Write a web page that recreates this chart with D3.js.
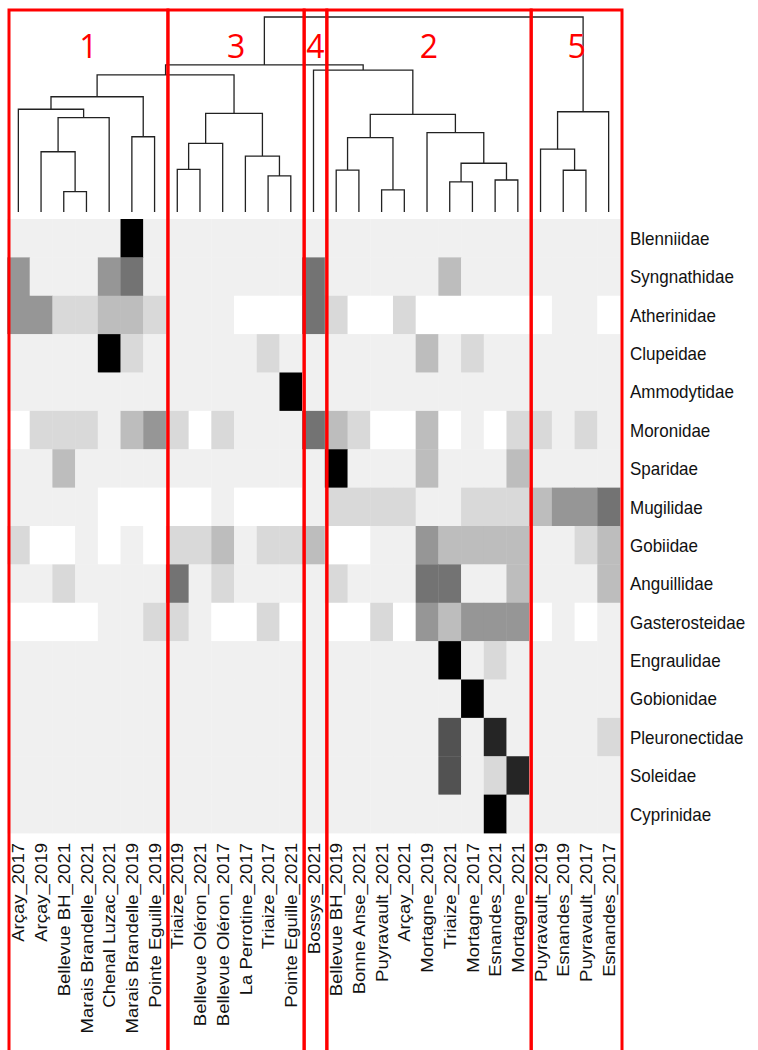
<!DOCTYPE html>
<html lang="en">
<head>
<meta charset="utf-8">
<title>Fish families by site and year</title>
<script src="https://cdn.jsdelivr.net/npm/d3@7"></script>
<style>
  body { margin: 0; background: #fff; }
</style>
</head>
<body>
<script>
// samples in dendrogram order (left to right)
var samples = [
  "Arçay_2017", "Arçay_2019", "Bellevue BH_2021", "Marais Brandelle_2021", "Chenal Luzac_2021",
  "Marais Brandelle_2019", "Pointe Eguille_2019",
  "Triaize_2019", "Bellevue Oléron_2021", "Bellevue Oléron_2017", "La Perrotine_2017", "Triaize_2017",
  "Pointe Eguille_2021",
  "Bossys_2021",
  "Bellevue BH_2019", "Bonne Anse_2021", "Puyravault_2021", "Arçay_2021", "Mortagne_2019",
  "Triaize_2021", "Mortagne_2017", "Esnandes_2021", "Mortagne_2021",
  "Puyravault_2019", "Esnandes_2019", "Puyravault_2017", "Esnandes_2017"
];

var families = [
  "Blenniidae", "Syngnathidae", "Atherinidae", "Clupeidae", "Ammodytidae", "Moronidae",
  "Sparidae", "Mugilidae", "Gobiidae", "Anguillidae", "Gasterosteidae", "Engraulidae",
  "Gobionidae", "Pleuronectidae", "Soleidae", "Cyprinidae"
];

// grey level of each cell (0 = white ... 8 = black), one row per family
var blenniidae     = [1,1,1,1,1,8,1,1,1,1,1,1,1,1,1,1,1,1,1,1,1,1,1,1,1,1,1];
var syngnathidae   = [4,1,1,1,4,5,1,1,1,1,1,1,1,5,1,1,1,1,1,3,1,1,1,1,1,1,1];
var atherinidae    = [4,4,2,2,3,3,2,1,1,1,0,0,0,5,2,0,0,2,0,0,0,0,0,0,1,1,0];
var clupeidae      = [1,1,1,1,8,2,1,1,1,1,1,2,1,1,1,1,1,1,3,1,2,1,1,1,1,1,1];
var ammodytidae    = [1,1,1,1,1,1,1,1,1,1,1,1,8,1,1,1,1,1,1,1,1,1,1,1,1,1,1];
var moronidae      = [0,2,2,2,1,3,4,2,0,2,1,1,1,5,3,2,0,0,3,0,1,0,2,2,1,2,1];
var sparidae       = [1,1,3,1,1,1,1,1,1,1,1,1,1,1,8,1,1,1,3,1,1,1,3,1,1,1,1];
var mugilidae      = [1,1,1,1,0,0,0,0,0,1,0,0,0,1,2,2,2,2,1,1,2,2,2,3,4,4,5];
var gobiidae       = [2,0,0,1,0,1,0,2,2,3,1,2,2,3,0,0,1,1,4,3,3,3,3,1,1,2,3];
var anguillidae    = [1,1,2,1,1,1,1,5,1,2,1,1,1,1,2,1,1,1,5,5,1,1,3,1,1,1,3];
var gasterosteidae = [0,0,0,0,1,1,2,2,1,0,0,2,0,1,0,0,2,0,4,3,4,4,4,0,1,0,1];
var engraulidae    = [1,1,1,1,1,1,1,1,1,1,1,1,1,1,1,1,1,1,1,8,1,2,1,1,1,1,1];
var gobionidae     = [1,1,1,1,1,1,1,1,1,1,1,1,1,1,1,1,1,1,1,1,8,1,1,1,1,1,1];
var pleuronectidae = [1,1,1,1,1,1,1,1,1,1,1,1,1,1,1,1,1,1,1,6,1,7,1,1,1,1,2];
var soleidae       = [1,1,1,1,1,1,1,1,1,1,1,1,1,1,1,1,1,1,1,6,1,2,7,1,1,1,1];
var cyprinidae     = [1,1,1,1,1,1,1,1,1,1,1,1,1,1,1,1,1,1,1,1,1,8,1,1,1,1,1];

var levels = [blenniidae, syngnathidae, atherinidae, clupeidae, ammodytidae, moronidae,
  sparidae, mugilidae, gobiidae, anguillidae, gasterosteidae, engraulidae,
  gobionidae, pleuronectidae, soleidae, cyprinidae];

// hclust-style merges: negative = leaf (1-based sample), positive = earlier merge step
var mergePairs = [
  [-3, -4], [-2, 1], [2, -5], [-1, 3], [-6, -7], [4, 5],
  [-8, -9], [7, -10], [-12, -13], [-11, 9], [8, 10], [6, 11],
  [-15, -16], [-17, -18], [13, 14], [-20, -21], [-22, -23], [16, 17],
  [-19, 18], [15, 19], [-14, 20], [12, 21],
  [-25, -26], [-24, 23], [24, -27], [22, 25]
];
var mergeHeights = [
  0.104, 0.309, 0.484, 0.527, 0.386, 0.591,
  0.219, 0.352, 0.185, 0.287, 0.506, 0.703,
  0.215, 0.113, 0.381, 0.154, 0.164, 0.250,
  0.407, 0.501, 0.728, 0.754,
  0.214, 0.322, 0.514, 1.0
];

// groups marked on the figure
var clusterNames = ["1", "3", "4", "2", "5"];
var clusterFirst = [0, 7, 13, 14, 23];
var clusterLast = [6, 12, 13, 22, 26];

// page layout
var width = 758;
var height = 1050;
var hm_left = 7, hm_right = 620, hm_top = 219, hm_bottom = 833;
var tree_top = 17, tree_bottom = 212;
var label_font = "'Liberation Sans', Arial, sans-serif";

var svg = d3.select("body").append("svg")
  .attr("width", width).attr("height", height);

var x = d3.scaleBand().domain(samples).range([hm_left, hm_right]);
var y = d3.scaleBand().domain(families).range([hm_top, hm_bottom]);
var color = d3.scaleOrdinal().domain(d3.range(9)).range(d3.schemeGreys[9]);
var h = d3.scaleLinear().domain([0, 1]).range([tree_bottom, tree_top]);

// heatmap cells
var cells = [];
families.forEach(function (f, i) {
  samples.forEach(function (s, j) {
    cells.push({ family: f, sample: s, level: levels[i][j] });
  });
});

svg.append("g").selectAll("rect")
  .data(cells)
  .enter()
  .append("rect")
  .attr("x", function (d) { return x(d.sample); })
  .attr("y", function (d) { return y(d.family); })
  .attr("width", x.bandwidth() + 0.4)
  .attr("height", y.bandwidth() + 0.4)
  .attr("fill", function (d) { return color(d.level); });

// dendrogram
var nodes = [];
function nodePos(ref) {
  if (ref < 0) {
    return { x: x(samples[-ref - 1]) + x.bandwidth() / 2, y: tree_bottom };
  }
  return nodes[ref - 1];
}
var links = [];
mergePairs.forEach(function (p, i) {
  var a = nodePos(p[0]);
  var b = nodePos(p[1]);
  var top = h(mergeHeights[i]);
  nodes.push({ x: (a.x + b.x) / 2, y: top });
  links.push("M" + a.x + "," + a.y + "V" + top + "H" + b.x + "V" + b.y);
});

svg.append("g").selectAll("path")
  .data(links)
  .enter()
  .append("path")
  .attr("d", function (d) { return d; })
  .attr("fill", "none")
  .attr("stroke", "#222")
  .attr("stroke-width", 1.3);

// column labels (rotated)
svg.append("g").selectAll("text")
  .data(samples)
  .enter()
  .append("text")
  .attr("transform", function (d) {
    return "translate(" + (x(d) + x.bandwidth() / 2) + "," + (hm_bottom + 10) + ") rotate(-90) scale(1.09,1)";
  })
  .attr("dy", "0.36em")
  .attr("text-anchor", "end")
  .style("font-family", label_font)
  .style("font-size", "17px")
  .style("fill", "#111")
  .text(function (d) { return d; });

// row labels
svg.append("g").selectAll("text")
  .data(families)
  .enter()
  .append("text")
  .attr("transform", function (d) {
    return "translate(" + (hm_right + 10) + "," + (y(d) + y.bandwidth() / 2) + ") scale(1,1.1)";
  })
  .attr("dy", "0.36em")
  .style("font-family", label_font)
  .style("font-size", "17px")
  .style("fill", "#111")
  .text(function (d) { return d; });

// red group boxes and numbers
var boxes = clusterNames.map(function (n, i) {
  var x0 = x(samples[clusterFirst[i]]) + 2;
  var x1 = x(samples[clusterLast[i]]) + x.bandwidth() + 2;
  return { name: n, x0: x0, x1: x1 };
});

svg.append("g").selectAll("rect")
  .data(boxes)
  .enter()
  .append("rect")
  .attr("x", function (d) { return d.x0; })
  .attr("y", 10)
  .attr("width", function (d) { return d.x1 - d.x0; })
  .attr("height", height + 20)
  .attr("fill", "none")
  .attr("stroke", "#ff0000")
  .attr("stroke-width", 3);

svg.append("g").selectAll("text")
  .data(boxes)
  .enter()
  .append("text")
  .attr("x", function (d) { return (d.x0 + d.x1) / 2; })
  .attr("y", 58)
  .attr("text-anchor", "middle")
  .style("font-family", "'Open Sans', 'Liberation Sans', sans-serif")
  .style("font-size", "32px")
  .style("fill", "#ff0000")
  .text(function (d) { return d.name; });
</script>
</body>
</html>
